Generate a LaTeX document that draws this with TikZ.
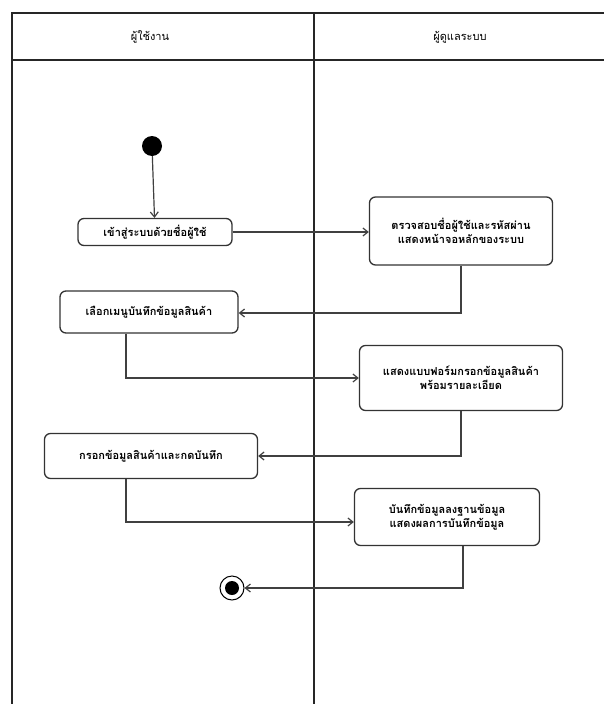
\documentclass[tikz,border=0pt]{standalone}
\usepackage{fontspec}
\newfontfamily\thaifont[Script=Thai]{Loma}
\usetikzlibrary{arrows.meta}
\begin{document}
\begin{tikzpicture}[x=1pt,y=-1pt,
  lane/.style={line width=1.6pt, draw=black!85},
  act/.style={draw=black!80, line width=1.3pt, rounded corners=6pt, fill=white,
    align=center, inner sep=2pt, font=\thaifont\bfseries\fontsize{11}{14}\selectfont},
  flow/.style={draw=black!75, line width=1.2pt, -{Straight Barb[length=5pt,width=8pt]}},
  hdr/.style={font=\thaifont\fontsize{11}{13}\selectfont}]
\useasboundingbox (0,0) rectangle (604,704);
% swimlanes
\draw[lane] (12,704) -- (12,13) -- (604,13);
\draw[lane] (12,60) -- (604,60);
\draw[lane] (314,13) -- (314,704);
\node[hdr] (h1) at (150,37) {ผู้ใช้งาน};
\node[hdr] (h2) at (460,37) {ผู้ดูแลระบบ};
% nodes
\node[circle, fill=black, minimum size=20pt, inner sep=0pt] (start) at (152,146) {};
\node[act, minimum width=154pt, minimum height=27pt] (a1) at (155,232) {เข้าสู่ระบบด้วยชื่อผู้ใช้};
\node[act, minimum width=183pt, minimum height=68pt] (a2) at (461,231) {ตรวจสอบชื่อผู้ใช้และรหัสผ่าน\\แสดงหน้าจอหลักของระบบ};
\node[act, minimum width=178pt, minimum height=42pt] (a3) at (149,312) {เลือกเมนูบันทึกข้อมูลสินค้า};
\node[act, minimum width=203pt, minimum height=65pt] (a4) at (461,378) {แสดงแบบฟอร์มกรอกข้อมูลสินค้า\\พร้อมรายละเอียด};
\node[act, minimum width=213pt, minimum height=45pt] (a5) at (151,456) {กรอกข้อมูลสินค้าและกดบันทึก};
\node[act, minimum width=185pt, minimum height=57pt] (a6) at (447,517) {บันทึกข้อมูลลงฐานข้อมูล\\แสดงผลการบันทึกข้อมูล};
\node[circle, draw=black, line width=1pt, minimum size=24pt, inner sep=0pt] (end) at (232,588) {};
\node[circle, fill=black, minimum size=14pt, inner sep=0pt] at (end) {};
% corners
\coordinate (c1) at (461,313);
\coordinate (c2) at (126,378);
\coordinate (c3) at (461,456);
\coordinate (c4) at (126,522);
\coordinate (c5) at (463,588);
% flows
\draw[flow] (start) -- (a1);
\draw[flow] (a1) -- (a2.west |- a1);
\draw[flow] (a2.south) -- (c1) -- (a3.east |- c1);
\draw[flow] (a3.south -| c2) -- (c2) -- (a4.west |- c2);
\draw[flow] (a4.south) -- (c3) -- (a5.east |- c3);
\draw[flow] (a5.south -| c4) -- (c4) -- (a6.west |- c4);
\draw[flow] (a6.south -| c5) -- (c5) -- (end.east);
\end{tikzpicture}
\end{document}
